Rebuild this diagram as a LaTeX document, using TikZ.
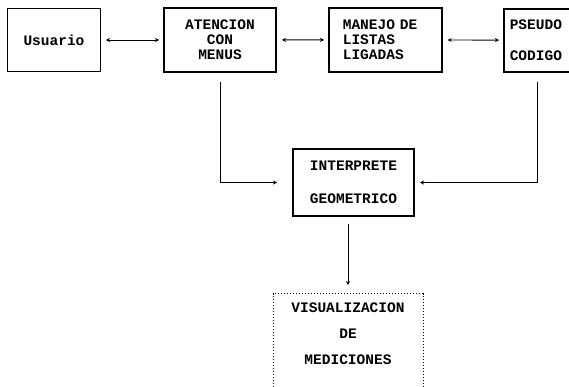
\documentclass[tikz,border=0pt]{standalone}
\usepackage{fontspec}
\setmonofont{Liberation Mono}
\usepackage{tikz}
\usetikzlibrary{arrows.meta,positioning,calc}

\begin{document}
\begin{tikzpicture}[
  >={Stealth[length=4pt,width=4pt]},
  x=1pt,
  y=-1pt,
  box/.style={draw=black,line width=1pt,anchor=north west,inner sep=0pt,
    font=\ttfamily\bfseries\fontsize{14.5}{15}\selectfont},
  heavybox/.style={box,line width=2pt},
  dotbox/.style={box,dotted,line width=1pt,anchor=north},
  link/.style={<->,line width=0.9pt,shorten <=5pt,shorten >=4pt},
  feed/.style={->,line width=0.9pt}
]
  \clip (0,0) rectangle (569,386);
  \fill[white] (0,0) rectangle (569,386);

  % upper row
  \node[box,minimum width=93,minimum height=63,align=center] (usuario)
    at (7,8) {Usuario};
  \node[heavybox,minimum width=112,minimum height=64,align=center] (atencion)
    at (163,7) {ATENCION\\CON\\MENUS};
  \node[heavybox,line width=1.6pt,minimum width=113,minimum height=64,
    text width=85,align=left] (manejo)
    at (328,7) {MANEJO DE\\LISTAS\\LIGADAS};
  \node[box,line width=1.5pt,minimum width=80,minimum height=63,
    text width=68,align=left] (pseudo)
    at (503,8) {PSEUDO\\[16pt]CODIGO};

  % middle and lower
  \node[heavybox,minimum width=121,minimum height=67,align=center] (interp)
    at (292,148) {INTERPRETE\\[18pt]GEOMETRICO};
  \node[dotbox,minimum width=150,inner ysep=9pt,align=center] (visual)
    at (348,293) {VISUALIZACION\\[11pt]DE\\[11pt]MEDICIONES\\[12pt]\strut};

  \draw[link] (usuario) -- (atencion);
  \draw[link] (atencion) -- (manejo);
  \draw[link] (manejo) -- (pseudo);
  \draw[feed,shorten <=9pt,shorten >=15pt] (atencion.south) |- (interp.west);
  \draw[feed,shorten <=9pt,shorten >=5pt]
    ([xshift=-6.5pt]pseudo.south) |- (interp.east);
  \draw[feed,shorten <=7pt,shorten >=8pt] (interp.south -| visual) -- (visual.north);
\end{tikzpicture}
\end{document}
